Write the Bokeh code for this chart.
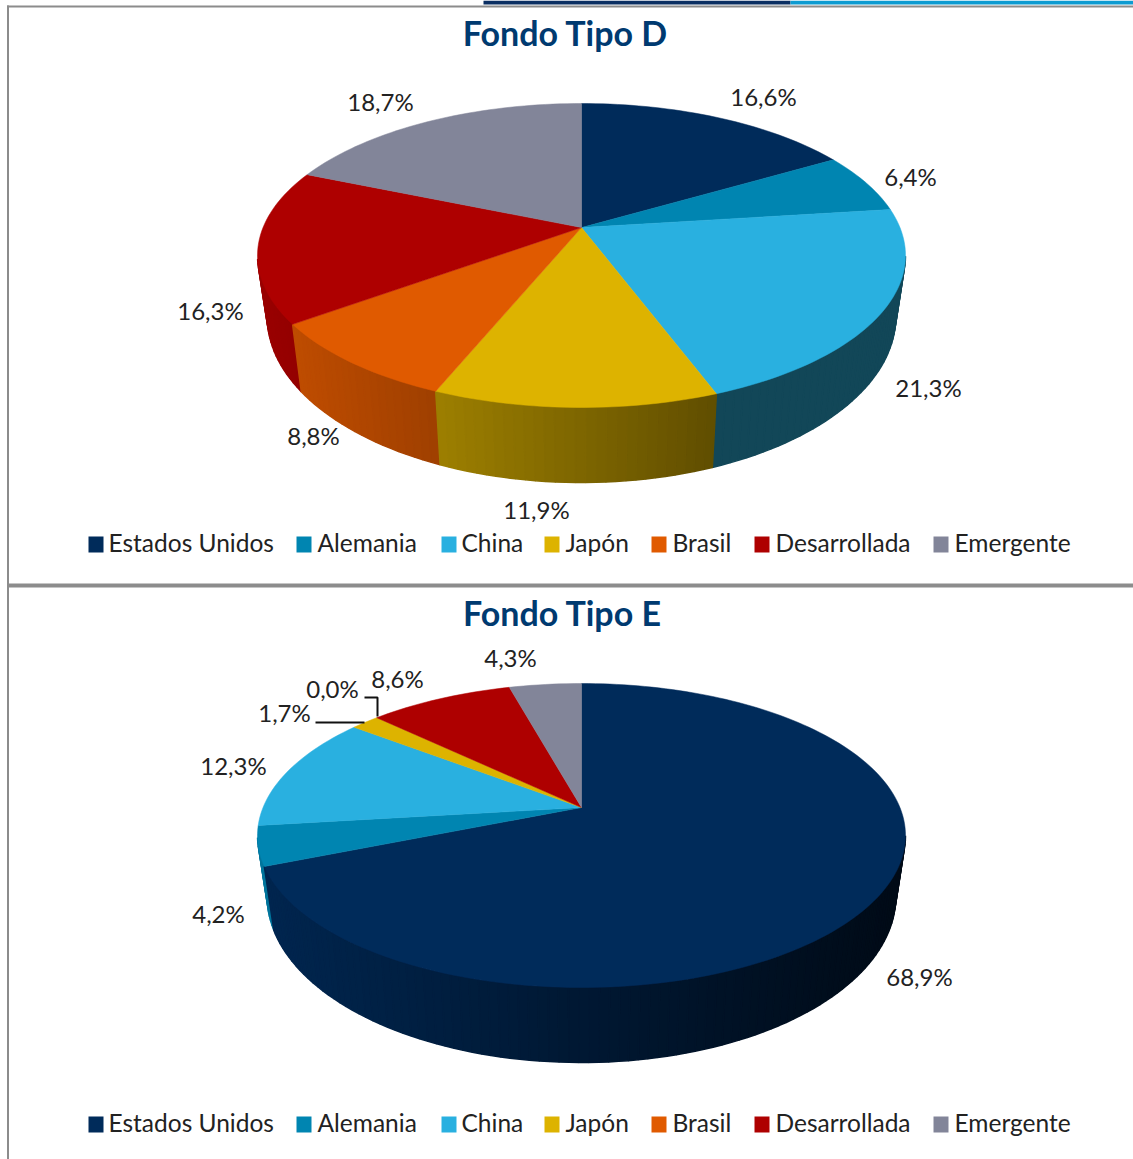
import math
from bokeh.embed import file_html
from bokeh.models import Range1d
from bokeh.plotting import figure
from bokeh.resources import INLINE
from bokeh.core.properties import value

# ---- data ----
categories = ["Estados Unidos", "Alemania", "China", "Japón", "Brasil", "Desarrollada", "Emergente"]
fondo_d = [16.6, 6.4, 21.3, 11.9, 8.8, 16.3, 18.7]
fondo_e = [68.9, 4.2, 12.3, 1.7, 0.0, 8.6, 4.3]
colors = ["#002B5A", "#0085B1", "#29B0E0", "#DDB300", "#E05A00", "#AE0000", "#828599"]
china_side = "#124758"

# ---- layout (page pixels) ----
W, H = 1133, 1159
RX, RY, CX = 324.0, 152.0, 581.0
TILT = -0.184
LABEL_FONT = value("Lato")
labels_d_xy = [(763, 96), (910, 176), (928, 387), (536, 509), (313, 435), (210, 310), (380, 101)]
labels_e_xy = [(919, 976), (218, 913), (233, 765), (284, 712), (332, 688), (397, 678), (510, 657)]
legend_sq_x = [88, 296, 441, 544, 651, 754, 933]
legend_tx_x = [108, 317, 461, 565, 672, 775, 954]

p = figure(width=W, height=H, output_backend="svg", toolbar_location=None,
           x_range=Range1d(0, W), y_range=Range1d(H, 0), min_border=0,
           x_axis_type="linear", y_axis_type="linear")
p.axis.visible = False
p.grid.visible = False
p.outline_line_color = None
p.background_fill_color = "white"
p.border_fill_color = "white"


def rim(theta, cy):
    """Pie angle (deg, clockwise from top) -> point on the top ellipse, with perspective."""
    t = math.radians(theta)
    u, v = math.sin(t), -math.cos(t)
    d = 1 + TILT * v
    un = u * math.sqrt(1 - TILT ** 2) / d
    vn = (v + TILT) / d
    return CX + RX * un, cy + RY * vn, vn


def lower(x, y, vn):
    return CX + (x - CX) * 0.97, y + 61 + 14 * vn


def shade(col, x):
    if col == colors[2]:
        return china_side
    f = 0.57 - 0.00098 * (x - CX)
    f = max(0.2, min(1.0, f))
    r, g, b = int(col[1:3], 16), int(col[3:5], 16), int(col[5:7], 16)
    return "#%02x%02x%02x" % (int(r * f), int(g * f), int(b * f))


def pie(vals, cy):
    total = sum(vals)
    strips = []
    tops_x, tops_y, tops_c = [], [], []
    apex_y = cy + RY * TILT
    start = 0.0
    for val, col in zip(vals, colors):
        end = start + val / total * 360.0
        n = max(1, int((end - start) / 1.5))
        ths = [start + (end - start) * i / n for i in range(n + 1)]
        pts = [rim(t, cy) for t in ths]
        if val > 0:
            tops_x.append([CX] + [q[0] for q in pts])
            tops_y.append([apex_y] + [q[1] for q in pts])
            tops_c.append(col)
        for a, b in zip(pts[:-1], pts[1:]):
            if a[2] >= 0 and b[2] >= 0:
                la, lb = lower(*a), lower(*b)
                strips.append(((a[2] + b[2]) / 2, [a[0], b[0], lb[0], la[0]], [a[1], b[1], lb[1], la[1]],
                               shade(col, (a[0] + b[0]) / 2)))
        start = end
    strips.sort(key=lambda s: s[0])
    sc = [s[3] for s in strips]
    p.patches([s[1] for s in strips], [s[2] for s in strips], fill_color=sc, line_color=sc, line_width=1.5)
    p.patches(tops_x, tops_y, fill_color=tops_c, line_color=tops_c, line_width=0.5)


def labels(vals, xy):
    texts = [("%.1f%%" % v).replace(".", ",") for v in vals]
    p.text([q[0] for q in xy], [q[1] for q in xy], text=texts, text_align="center", text_baseline="middle",
           text_font=LABEL_FONT, text_font_size="24px", text_color="#222222")


def legend(y):
    p.rect([x + 7.5 for x in legend_sq_x], [y] * 7, width=15, height=16, fill_color=colors, line_color=None)
    p.text(legend_tx_x, [y - 2] * 7, text=categories, text_align="left", text_baseline="middle",
           text_font=LABEL_FONT, text_font_size="24.5px", text_color="#222222")


# panel frame
p.quad(left=[6.5, 6.5], right=[W, 8.5], top=[5, 5], bottom=[7, H], fill_color="#8c8c8c", line_color=None)
p.quad(left=[6.5], right=[W], top=[583], bottom=[587], fill_color="#8c8c8c", line_color=None)
p.quad(left=[483, 790], right=[790, W], top=[0, 0], bottom=[4, 4], fill_color=["#0B2F63", "#0D9BD1"], line_color=None)

# titles
p.text([565, 562], [32, 612], text=["Fondo Tipo D", "Fondo Tipo E"], text_align="center", text_baseline="middle",
       text_font=value("Lato"), text_font_style="bold", text_font_size="34px", text_color="#003A70")

pie(fondo_d, 255.0)
pie(fondo_e, 835.0)
labels(fondo_d, labels_d_xy)
labels(fondo_e, labels_e_xy)
legend(544)
legend(1124)

# leader lines (Fondo Tipo E, small slices)
p.line([315, 364], [722, 722], line_color="#111111", line_width=2)
p.line([364, 377, 377], [697, 697, 716], line_color="#111111", line_width=2)

open("out.html", "w").write(file_html(p, INLINE))
